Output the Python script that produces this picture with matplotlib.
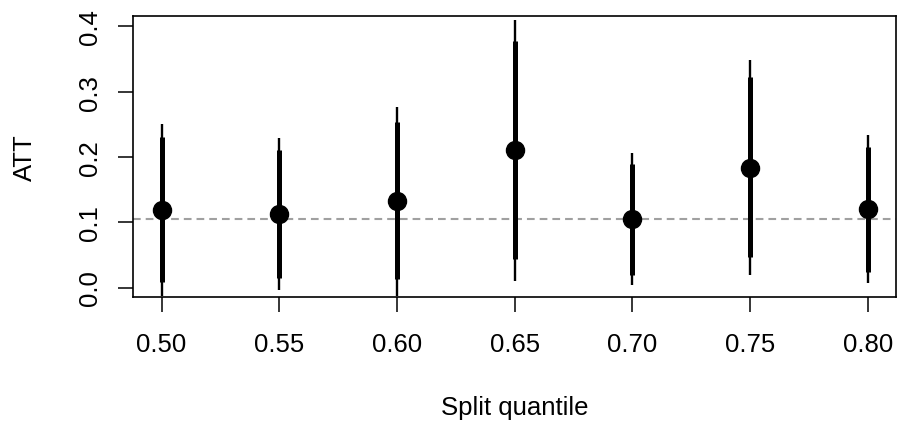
import numpy as np
import matplotlib.pyplot as plt

# split quantiles and ATT estimates with 90% / 95% intervals
quantiles = [0.50, 0.55, 0.60, 0.65, 0.70, 0.75, 0.80]
att       = [0.119, 0.113, 0.133, 0.210, 0.105, 0.183, 0.120]
hi95      = [0.251, 0.229, 0.276, 0.410, 0.206, 0.349, 0.234]
hi90      = [0.231, 0.211, 0.253, 0.378, 0.189, 0.322, 0.215]
lo90      = [0.008, 0.014, 0.013, 0.044, 0.019, 0.046, 0.023]
lo95      = [-0.013, -0.004, -0.013, 0.010, 0.004, 0.019, 0.007]
ref_att   = 0.105

xticks = quantiles
yticks = [0.0, 0.1, 0.2, 0.3, 0.4]

plt.rcParams['font.family'] = ['Liberation Sans', 'DejaVu Sans']
fs = 18.5

fig = plt.figure(figsize=(8.98, 4.27), dpi=100)
ax = fig.add_axes([133.3/898, 1 - 298.3/427, (896 - 133.3)/898, (298.3 - 17)/427])

ax.axhline(ref_att, color='#a0a0a0', lw=1.5, ls=(0, (3.7, 2.4)), zorder=1)
ax.vlines(quantiles, lo95, hi95, color='black', lw=1.7, zorder=2)
ax.vlines(quantiles, lo90, hi90, color='black', lw=3.6, zorder=3)
ax.plot(quantiles, att, 'o', color='black', ms=13, zorder=4)

ax.set_xlim(0.488, 0.812)
ax.set_ylim(-0.015, 0.416)
ax.set_xticks(xticks)
ax.set_xticklabels(['%.2f' % q for q in xticks])
ax.set_yticks(yticks)
ax.set_yticklabels(['%.1f' % v for v in yticks], rotation=90, va='center')

for s in ax.spines.values():
    s.set_linewidth(1.2)
ax.tick_params(axis='both', direction='out', length=10.8, width=1.1, labelsize=fs)
ax.tick_params(axis='x', pad=14)
ax.tick_params(axis='y', pad=11.5)

fig.text((133.3 + 896) / 2 / 898, 1 - 415/427, 'Split quantile', ha='center', va='baseline', fontsize=fs)
fig.text(32/898, 1 - 157.5/427, 'ATT', rotation=90, rotation_mode='anchor',
         ha='center', va='baseline', fontsize=fs)

fig.savefig('out.png', dpi=100)
